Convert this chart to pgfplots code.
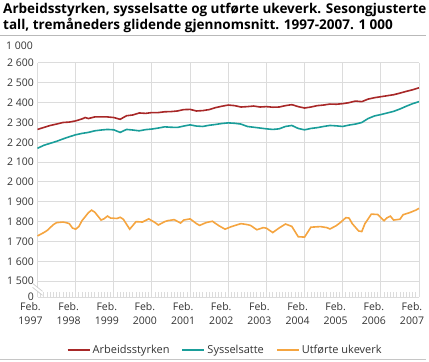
\documentclass[border=0pt]{standalone}
\usepackage{pgfplots}
\pgfplotsset{compat=1.18}
\usepackage{fontspec}
\setmainfont{Open Sans}
\definecolor{cred}{HTML}{A82828}
\definecolor{cteal}{HTML}{1A9E9A}
\definecolor{corange}{HTML}{F5A540}
\definecolor{cgrid}{HTML}{DCDCDC}
\definecolor{ctext}{HTML}{333333}
\begin{document}
\begin{tikzpicture}
\path[use as bounding box] (0,0) rectangle (429bp,362bp);
% title
\node[anchor=north west, align=left, inner sep=0pt, font=\fontsize{13.5bp}{16bp}\selectfont\bfseries] at (3bp,359bp)
 {Arbeidsstyrken, sysselsatte og utførte ukeverk. Sesongjusterte\\tall, tremåneders glidende gjennomsnitt. 1997-2007. 1 000};
\draw[gray!55, line width=0.8bp] (0bp,327bp) -- (426bp,327bp);
\draw[gray!45, line width=0.8bp] (0bp,2.5bp) -- (426bp,2.5bp);
\node[anchor=east, inner sep=0pt, text=ctext, font=\fontsize{10.5bp}{12bp}\selectfont] at (33bp,316bp) {1 000};
\begin{axis}[
  at={(37.5bp,65bp)}, anchor=south west,
  scale only axis, width=381.5bp, height=234bp,
  xmin=0, xmax=120, ymin=1420, ymax=2600,
  axis line style={cgrid, line width=1bp},
  axis x line*=bottom, axis y line*=left,
  xtick={0,12,...,120},
  xticklabels={Feb.\\1997,Feb.\\1998,Feb.\\1999,Feb.\\2000,Feb.\\2001,Feb.\\2002,Feb.\\2003,Feb.\\2004,Feb.\\2005,Feb.\\2006,Feb.\\2007},
  xticklabel style={align=center, text=ctext, font=\fontsize{10.5bp}{14bp}\selectfont, inner sep=0.5bp, xshift=-7bp, yshift=-4.5bp},
  minor x tick num=11,
  minor tick length=5bp,
  tick align=inside,
  major tick length=0pt,
  minor tick style={cgrid, line width=0.8bp},
  ytick={1420,1500,1600,1700,1800,1900,2000,2100,2200,2300,2400,2500,2600},
  yticklabels={0,1 500,1 600,1 700,1 800,1 900,2 000,2 100,2 200,2 300,2 400,2 500,2 600},
  yticklabel style={text=ctext, font=\fontsize{10.5bp}{12bp}\selectfont, inner sep=0.5bp, xshift=-3bp},
  ymajorgrids, xmajorgrids,
  major grid style={cgrid, line width=1bp},
  clip=false,
  legend columns=3,
  legend style={draw=none, fill=none, at={(0.492,-0.226)}, anchor=center,
    font=\fontsize{11bp}{13bp}\selectfont, text=ctext,
    /tikz/every even column/.append style={column sep=10bp}},
  legend image code/.code={\draw[#1, line width=2bp] (0bp,0bp) -- (22bp,0bp);},
]
\addplot[cred, line width=1.6bp] coordinates {
(0,2265)(2,2275)(4,2285)(6,2292)(8,2300)(10,2302)(12,2308)(14,2318)(15,2325)(16,2320)
(18,2328)(20,2328)(22,2328)(24,2325)(26,2316)(28,2334)(30,2338)(32,2348)(34,2346)(36,2350)
(38,2350)(40,2354)(42,2355)(44,2358)(46,2365)(48,2366)(50,2358)(52,2360)(54,2365)(56,2375)
(58,2382)(60,2388)(62,2385)(64,2378)(66,2380)(68,2383)(70,2378)(72,2380)(74,2377)(76,2378)
(78,2385)(80,2390)(82,2380)(84,2373)(86,2378)(88,2385)(90,2388)(92,2393)(94,2392)(96,2395)
(98,2400)(100,2408)(102,2405)(104,2418)(106,2425)(108,2430)(110,2435)(112,2440)(114,2448)
(116,2457)(118,2465)(120,2475)};
\addlegendentry{Arbeidsstyrken}
\addplot[cteal, line width=1.6bp] coordinates {
(0,2170)(2,2185)(4,2195)(6,2205)(8,2217)(10,2228)(12,2238)(14,2245)(16,2250)(18,2258)
(20,2262)(22,2265)(24,2263)(26,2250)(28,2265)(30,2262)(32,2258)(34,2264)(36,2267)(38,2272)
(40,2278)(42,2276)(44,2275)(46,2282)(48,2288)(50,2282)(52,2280)(54,2286)(56,2290)(58,2295)
(60,2298)(62,2296)(64,2292)(66,2280)(68,2276)(70,2272)(72,2268)(74,2265)(76,2268)(78,2280)
(80,2285)(82,2270)(84,2263)(86,2270)(88,2274)(90,2280)(92,2285)(94,2283)(96,2280)(98,2287)
(100,2292)(102,2300)(104,2320)(106,2333)(108,2340)(110,2348)(112,2356)(114,2368)(116,2382)
(118,2395)(120,2405)};
\addlegendentry{Sysselsatte}
\addplot[corange, line width=1.6bp] coordinates {
(0,1728)(2,1745)(3,1755)(5,1785)(6,1795)(8,1798)(9,1795)(10,1790)(11,1768)(12,1762)
(13,1775)(14,1805)(16,1845)(17,1858)(18,1848)(20,1808)(21,1815)(22,1828)(23,1818)(25,1816)
(26,1822)(27,1812)(29,1762)(31,1800)(33,1798)(35,1814)(37,1795)(38,1783)(40,1800)(41,1805)
(43,1810)(45,1793)(46,1808)(48,1814)(50,1790)(51,1781)(53,1795)(55,1802)(57,1780)(59,1762)
(61,1775)(64,1790)(66,1785)(67,1781)(69,1759)(71,1770)(72,1767)(74,1745)(76,1768)(78,1788)
(80,1776)(81,1750)(82,1724)(84,1722)(86,1772)(89,1775)(91,1770)(92,1763)(94,1780)(95,1792)
(97,1820)(98,1818)(99,1790)(101,1753)(102,1750)(103,1790)(105,1838)(107,1836)(109,1805)
(110,1820)(111,1828)(112,1808)(114,1812)(115,1835)(117,1845)(119,1858)(120,1867)};
\addlegendentry{Utførte ukeverk}
% axis break
\fill[white] ([xshift=-5bp,yshift=-2bp]rel axis cs:0,0.05) -- ([xshift=5bp,yshift=-10bp]rel axis cs:0,0.05) -- ([xshift=5bp,yshift=-6bp]rel axis cs:0,0.05) -- ([xshift=-5bp,yshift=2bp]rel axis cs:0,0.05) -- cycle;
\draw[gray!40, line width=0.7bp] ([xshift=-5bp,yshift=-2bp]rel axis cs:0,0.05) -- ([xshift=5bp,yshift=-10bp]rel axis cs:0,0.05);
\draw[gray!40, line width=0.7bp] ([xshift=-5bp,yshift=2bp]rel axis cs:0,0.05) -- ([xshift=5bp,yshift=-6bp]rel axis cs:0,0.05);
\end{axis}
\end{tikzpicture}
\end{document}
